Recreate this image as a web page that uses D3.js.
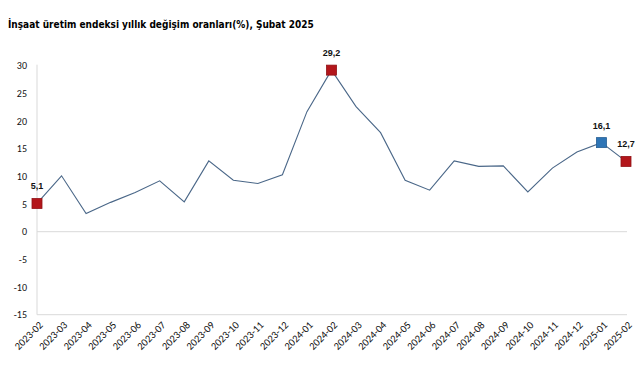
<!DOCTYPE html>
<html><head><meta charset="utf-8">
<script src="https://cdn.jsdelivr.net/npm/d3@7"></script>
<style>
html,body{margin:0;padding:0;background:#fff;}
svg{display:block;}
</style></head>
<body>
<svg id="chart" width="641" height="380"></svg>
<script>
const title = "İnşaat üretim endeksi yıllık değişim oranları(%), Şubat 2025";
const months = ["2023-02","2023-03","2023-04","2023-05","2023-06","2023-07","2023-08","2023-09","2023-10","2023-11","2023-12","2024-01","2024-02","2024-03","2024-04","2024-05","2024-06","2024-07","2024-08","2024-09","2024-10","2024-11","2024-12","2025-01","2025-02"];
const values = [5.1,10.1,3.3,5.3,7.1,9.2,5.4,12.8,9.3,8.7,10.3,21.7,29.2,22.6,17.9,9.3,7.5,12.8,11.8,11.9,7.2,11.5,14.4,16.1,12.7];
const yTicks = [30,25,20,15,10,5,0,-5,-10,-15];
const highlights = [
  {month:"2023-02", label:"5,1", color:"#B3161B"},
  {month:"2024-02", label:"29,2", color:"#B3161B"},
  {month:"2025-01", label:"16,1", color:"#2E75B6"},
  {month:"2025-02", label:"12,7", color:"#B3161B"}
];

const svg = d3.select("#chart");
const x = d3.scalePoint().domain(months).range([37, 626]);
const y = d3.scaleLinear().domain([-15, 30]).range([314.7, 65.7]);

svg.append("text").attr("x", 8).attr("y", 28)
  .attr("font-family", "'DejaVu Sans Condensed', 'DejaVu Sans', sans-serif").attr("font-stretch", "condensed")
  .attr("font-weight", "bold")
  .attr("font-size", 10).attr("fill", "#000").text(title);

// grid/axis lines
const lineCol = "#d9d9d9";
svg.append("line").attr("x1", x(months[0])).attr("x2", x(months[months.length-1]) + 1)
  .attr("y1", y(0)).attr("y2", y(0)).attr("stroke", lineCol).attr("stroke-width", 1);
svg.append("line").attr("x1", x(months[0])).attr("x2", x(months[months.length-1]) + 1)
  .attr("y1", y(-15)).attr("y2", y(-15)).attr("stroke", lineCol).attr("stroke-width", 1);
svg.append("line").attr("x1", x(months[0])).attr("x2", x(months[0]))
  .attr("y1", y(30) - 1).attr("y2", y(-15)).attr("stroke", lineCol).attr("stroke-width", 1);

// y axis labels
const yAxis = d3.axisLeft(y).tickValues(yTicks).tickSize(0).tickPadding(0)
  .tickFormat(d => String(d));
const gy = svg.append("g").attr("transform", "translate(27,0)").call(yAxis);
gy.select(".domain").remove();
gy.selectAll("text").attr("font-family", "Carlito, 'Open Sans', sans-serif").attr("font-size", 10).attr("fill", "#111");

// x axis labels
const xAxis = d3.axisBottom(x).tickSize(0).tickPadding(0);
const gx = svg.append("g").attr("transform", `translate(0,${y(-15)})`).call(xAxis);
gx.select(".domain").remove();
gx.selectAll("text")
  .attr("font-family", "Carlito, 'Open Sans', sans-serif").attr("font-size", 10.5).attr("fill", "#111")
  .attr("text-anchor", "end").attr("dy", null).attr("y", 0)
  .attr("transform", "translate(6,11) rotate(-45)");

// line
const line = d3.line().x((d, i) => x(months[i])).y(d => y(d));
svg.append("path").datum(values).attr("d", line)
  .attr("fill", "none").attr("stroke", "#4A6788").attr("stroke-width", 1.1);

// markers
const idx = m => months.indexOf(m);
const s = 10;
svg.selectAll("rect.mk").data(highlights).enter().append("rect")
  .attr("x", d => x(d.month) - s/2).attr("y", d => y(values[idx(d.month)]) - s/2)
  .attr("width", s).attr("height", s).attr("fill", d => d.color)
  .attr("stroke", d => d3.color(d.color).darker(0.6)).attr("stroke-width", 0.8);
svg.selectAll("text.lb").data(highlights).enter().append("text")
  .attr("x", d => x(d.month)).attr("y", d => y(values[idx(d.month)]) - 14)
  .attr("text-anchor", "middle")
  .attr("font-family", "'Liberation Sans', Arial, sans-serif").attr("font-weight", "bold")
  .attr("font-size", 9).attr("fill", "#111").text(d => d.label);
</script>
</body></html>
